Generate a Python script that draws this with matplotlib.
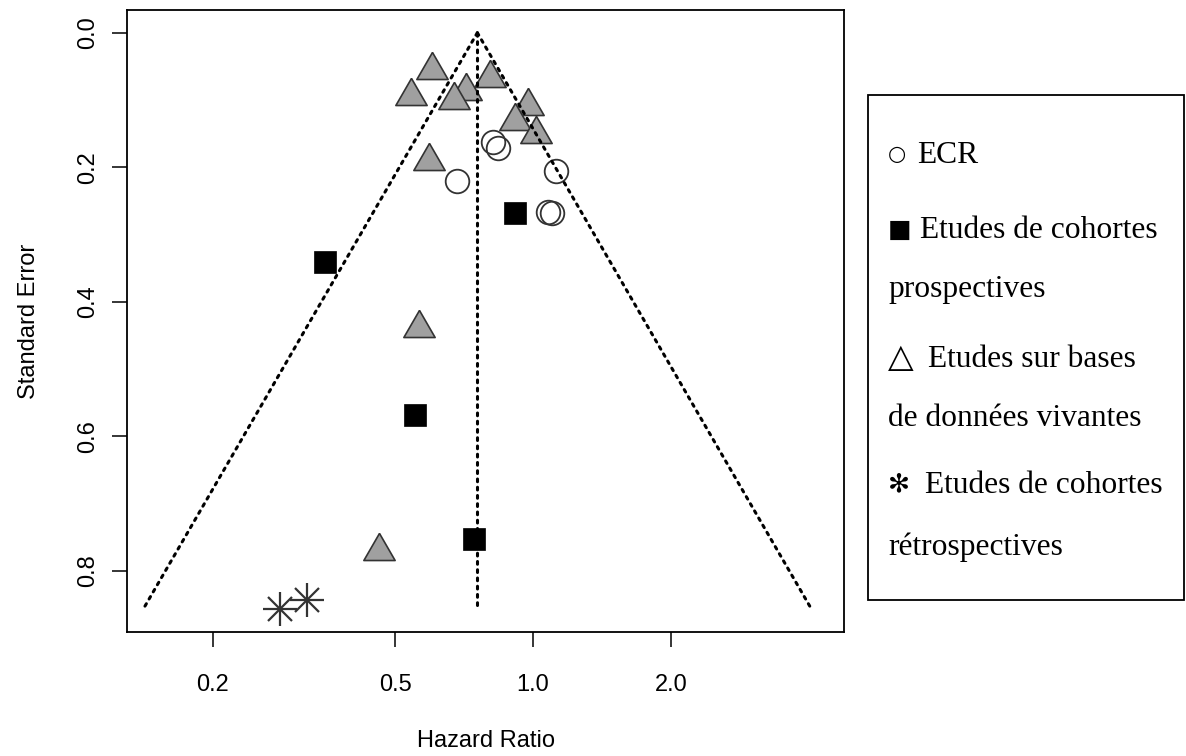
import numpy as np
import matplotlib
matplotlib.use("Agg")
import matplotlib.pyplot as plt
from matplotlib.patches import Rectangle

# ---------------- data ----------------
ecr_hr = [0.819, 0.840, 0.681, 1.122, 1.080, 1.098]
ecr_se = [0.162, 0.172, 0.220, 0.205, 0.266, 0.268]

prosp_hr = [0.913, 0.351, 0.552, 0.744]
prosp_se = [0.268, 0.341, 0.568, 0.752]

base_hr = [0.601, 0.541, 0.713, 0.673, 0.807, 0.975, 0.914, 1.017, 0.593, 0.563, 0.462]
base_se = [0.055, 0.094, 0.086, 0.100, 0.067, 0.109, 0.131, 0.150, 0.190, 0.439, 0.770]

retro_hr = [0.281, 0.321]
retro_se = [0.857, 0.844]

center_hr = 0.756
max_se = 0.857

xticks = [0.2, 0.5, 1.0, 2.0]
xtick_labels = ["0.2", "0.5", "1.0", "2.0"]
yticks = [0.0, 0.2, 0.4, 0.6, 0.8]
ytick_labels = ["0.0", "0.2", "0.4", "0.6", "0.8"]

legend_symbols = ["○", "■", "", "△", "", "✻", ""]
legend_texts = ["ECR", "Etudes de cohortes", "prospectives", "Etudes sur bases",
                "de données vivantes", "Etudes de cohortes", "rétrospectives"]

# ---------------- figure ----------------
W, H = 1186, 756
fig = plt.figure(figsize=(W / 100, H / 100), dpi=100)
ax = fig.add_axes([127 / W, 1 - 632 / H, (844 - 127) / W, (632 - 10) / H])
ax.set_xscale("log")
ax.set_xlim(0.1299, 4.775)
ax.set_ylim(0.891, -0.0338)

# funnel
se_line = np.array([0.0, max_se])
dot = dict(color="black", lw=2.2, linestyle=(0, (0.9, 1.8)), dash_capstyle="round",
           solid_capstyle="round", zorder=5)
ax.plot([center_hr, center_hr], se_line, **dot)
ax.plot(center_hr * np.exp(-1.96 * se_line), se_line, **dot)
ax.plot(center_hr * np.exp(1.96 * se_line), se_line, **dot)

# markers
tri = [(0, 2), (-np.sqrt(3), -1), (np.sqrt(3), -1), (0, 2)]
ax.plot(base_hr, base_se, linestyle="none", marker=tri, markersize=26,
        markerfacecolor="#a0a0a0", markeredgecolor="#333333", markeredgewidth=1.2, zorder=3)
ax.plot(ecr_hr, ecr_se, linestyle="none", marker="o", markersize=17,
        markerfacecolor="none", markeredgecolor="#333333", markeredgewidth=1.3, zorder=3)
ax.plot(prosp_hr, prosp_se, linestyle="none", marker="s", markersize=16.3,
        markerfacecolor="black", markeredgecolor="black", markeredgewidth=0.5, zorder=3)
ax.plot(retro_hr, retro_se, linestyle="none", marker="+", markersize=24,
        markeredgecolor="#333333", markeredgewidth=1.6, zorder=3)
ax.plot(retro_hr, retro_se, linestyle="none", marker="x", markersize=17.5,
        markeredgecolor="#333333", markeredgewidth=1.6, zorder=3)

ax.set_xticks(xticks)
ax.set_xticklabels(xtick_labels)
ax.minorticks_off()
ax.set_yticks(yticks)
ax.set_yticklabels(ytick_labels, rotation=90, va="center")
ax.tick_params(axis="both", direction="out", length=11, width=1.1, labelsize=17,
               colors="black")
ax.tick_params(axis="x", pad=19)
ax.tick_params(axis="y", pad=9)
for s in ax.spines.values():
    s.set_linewidth(1.3)

ax.set_xlabel("Hazard Ratio", fontsize=17, labelpad=25)
ax.set_ylabel("Standard Error", fontsize=17, labelpad=27)
for lab in ax.get_xticklabels() + ax.get_yticklabels():
    lab.set_family(["Liberation Sans", "DejaVu Sans"])
ax.xaxis.label.set_family(["Liberation Sans", "DejaVu Sans"])
ax.yaxis.label.set_family(["Liberation Sans", "DejaVu Sans"])

# legend box (text box)
fig.patches.append(Rectangle((868 / W, 1 - 600 / H), (1184 - 868) / W, (600 - 95) / H,
                             transform=fig.transFigure, fill=False, edgecolor="black",
                             linewidth=1.3))
baselines = [163, 238, 297, 367, 426, 493, 555]
text_x = [917, 920, 888, 928, 888, 925, 888]
sym_size = [15, 18, 0, 24, 0, 19, 0]
sym_weight = ["bold", "normal", "normal", "normal", "normal", "bold", "normal"]
sym_dy = [-3, -1, 0, 0, 0, -2, 0]
for sym, txt, yb, tx, ss, sw, dy in zip(legend_symbols, legend_texts, baselines, text_x,
                                        sym_size, sym_weight, sym_dy):
    if sym:
        fig.text(888 / W, 1 - (yb + dy) / H, sym, fontsize=ss, ha="left", va="baseline",
                 family=["DejaVu Sans"], fontweight=sw)
    fig.text(tx / W, 1 - yb / H, txt, fontsize=22.7, ha="left", va="baseline",
             family=["Liberation Serif", "DejaVu Serif"])

fig.savefig("out.png", dpi=100)
